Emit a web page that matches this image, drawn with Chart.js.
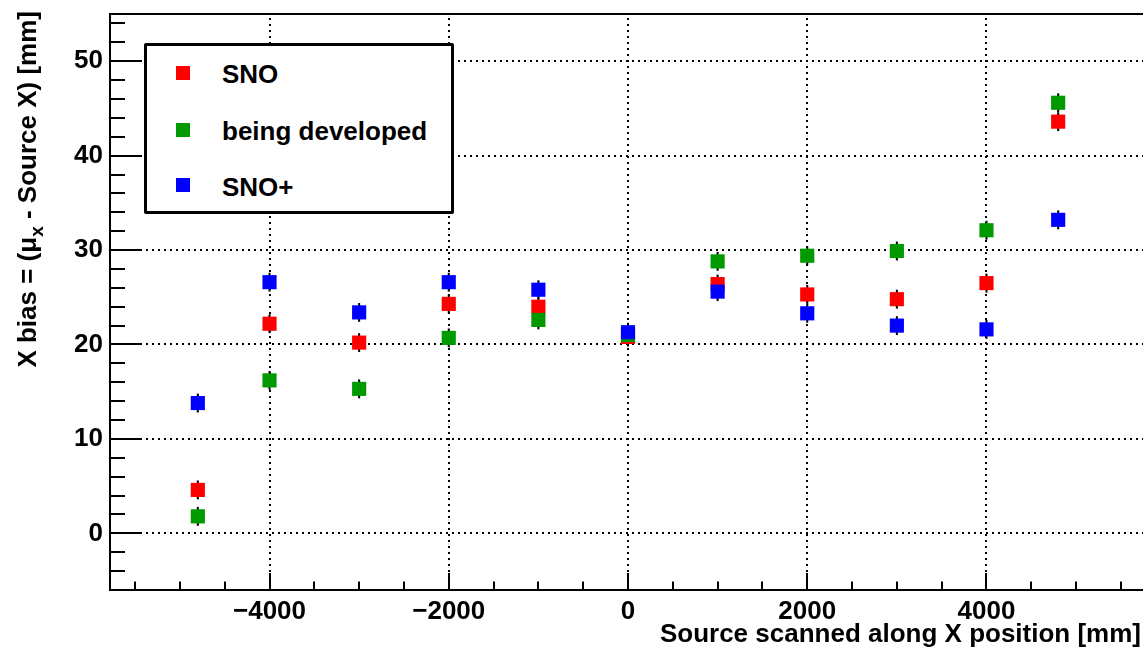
<!DOCTYPE html>
<html lang="en">
<head>
  <meta charset="UTF-8" />
  <title>X bias vs source position</title>
  <script src="https://cdn.jsdelivr.net/npm/chart.js"></script>
  <style>
    html, body {
      margin: 0;
      padding: 0;
      background: #fff;
      overflow: hidden;
    }
    .wrap {
      position: relative;
      width: 1200px;
      height: 650px;
    }
    canvas {
      display: block;
    }
    .legend {
      position: absolute;
      left: 144px;
      top: 43px;
      width: 310px;
      height: 171px;
      box-sizing: border-box;
      border: 3px solid #000;
      border-radius: 2px;
      background: #fff;
      font: bold 26px "Liberation Sans", Arial, sans-serif;
      color: #000;
    }
    .legend .mk {
      position: absolute;
      left: 29px;
      width: 14px;
      height: 14px;
    }
    .legend .lb {
      position: absolute;
      left: 75px;
      line-height: 26px;
      white-space: nowrap;
    }
  </style>
</head>
<body>
  <div class="wrap">
    <canvas id="biasChart" width="1148" height="650"></canvas>
    <div class="legend">
      <div class="mk" style="top:20px;background:#ff0000;"></div>
      <div class="lb" style="top:15px;">SNO</div>
      <div class="mk" style="top:77px;background:#009900;"></div>
      <div class="lb" style="top:72px;">being developed</div>
      <div class="mk" style="top:132px;background:#0000ff;"></div>
      <div class="lb" style="top:128px;">SNO+</div>
    </div>
  </div>

  <script>
    // source positions along X [mm]
    const xPositions = [-4800, -4000, -3000, -2000, -1000, 0, 1000, 2000, 3000, 4000, 4800];

    // X bias [mm] for each fitter
    const snoBias   = [4.6, 22.2, 20.2, 24.3, 24.0, 20.8, 26.4, 25.3, 24.8, 26.5, 43.6];
    const devBias   = [1.8, 16.2, 15.3, 20.7, 22.6, 21.0, 28.8, 29.4, 29.9, 32.1, 45.6];
    const snoPBias  = [13.8, 26.6, 23.4, 26.6, 25.8, 21.3, 25.6, 23.3, 22.0, 21.6, 33.2];

    // error bars
    const snoErr  = [1.0, 1.0, 1.0, 1.0, 1.0, 1.0, 1.0, 1.0, 1.0, 1.0, 1.0];
    const devErr  = [1.0, 1.0, 1.0, 1.0, 1.0, 1.0, 1.0, 1.0, 1.0, 1.0, 1.0];
    const snoPErr = [1.0, 1.0, 1.0, 1.0, 1.0, 1.0, 1.0, 1.0, 1.0, 1.0, 1.0];

    // axis ticks
    const xTickValues = [-4000, -2000, 0, 2000, 4000];
    const yTickValues = [0, 10, 20, 30, 40, 50];
    const xMinorStep = 500;
    const yMinorStep = 2;

    const FONT = '"Liberation Sans", Arial, sans-serif';
    const FRAME_RIGHT = 1146; // frame runs just past the picture edge

    function points(ys) {
      return xPositions.map((x, i) => ({ x: x, y: ys[i] }));
    }

    function noPadding(s) {
      s.paddingTop = 0;
      s.paddingBottom = 0;
      s.paddingLeft = 0;
      s.paddingRight = 0;
    }

    // ROOT-like frame: dotted grid, error bars, inner ticks, axis titles
    const rootFrame = {
      id: 'rootFrame',
      beforeDatasetsDraw(chart) {
        const ctx = chart.ctx;
        const a = chart.chartArea;
        const xs = chart.scales.x, ys = chart.scales.y;
        ctx.save();

        // grid
        ctx.strokeStyle = '#000';
        ctx.lineWidth = 2;
        ctx.setLineDash([2, 4]);
        xTickValues.forEach(v => {
          const px = Math.round(xs.getPixelForValue(v));
          ctx.beginPath();
          ctx.moveTo(px, a.bottom);
          ctx.lineTo(px, a.top);
          ctx.stroke();
        });
        yTickValues.forEach(v => {
          const py = Math.round(ys.getPixelForValue(v));
          ctx.beginPath();
          ctx.moveTo(a.left, py);
          ctx.lineTo(a.right, py);
          ctx.stroke();
        });
        ctx.setLineDash([]);

        // error bars
        ctx.lineWidth = 2;
        chart.data.datasets.forEach(ds => {
          ds.data.forEach((p, i) => {
            const px = xs.getPixelForValue(p.x);
            ctx.beginPath();
            ctx.moveTo(px, ys.getPixelForValue(p.y - ds.errors[i]));
            ctx.lineTo(px, ys.getPixelForValue(p.y + ds.errors[i]));
            ctx.stroke();
          });
        });
        ctx.restore();
      },
      afterDraw(chart) {
        const ctx = chart.ctx;
        const a = chart.chartArea;
        const xs = chart.scales.x, ys = chart.scales.y;
        ctx.save();
        ctx.strokeStyle = '#000';
        ctx.lineWidth = 2;

        // ticks inside the frame
        ctx.beginPath();
        for (let v = Math.ceil(xs.min / xMinorStep) * xMinorStep; v <= xs.max; v += xMinorStep) {
          const px = Math.round(xs.getPixelForValue(v));
          const len = (v % 2000 === 0) ? 17 : 8.5;
          ctx.moveTo(px, a.bottom);
          ctx.lineTo(px, a.bottom - len);
        }
        for (let v = Math.ceil(ys.min / yMinorStep) * yMinorStep; v <= ys.max; v += yMinorStep) {
          const py = Math.round(ys.getPixelForValue(v));
          const len = (v % 10 === 0) ? 30 : 15;
          ctx.moveTo(a.left, py);
          ctx.lineTo(a.left + len, py);
        }
        ctx.stroke();

        // frame
        ctx.strokeRect(a.left, a.top, a.right - a.left, a.bottom - a.top);

        // x title
        ctx.fillStyle = '#000';
        ctx.font = 'bold 26px ' + FONT;
        ctx.textAlign = 'right';
        ctx.textBaseline = 'alphabetic';
        ctx.fillText('Source scanned along X position [mm]', 1141, 642);

        // y title, rotated, with subscript
        const parts = [
          { t: 'X bias = (\u03bc', size: 26, dy: 0 },
          { t: 'x', size: 19, dy: 7 },
          { t: ' - Source X) [mm]', size: 26, dy: 0 }
        ];
        let total = 0;
        parts.forEach(p => {
          ctx.font = 'bold ' + p.size + 'px ' + FONT;
          p.w = ctx.measureText(p.t).width;
          total += p.w;
        });
        ctx.translate(36, 0);
        ctx.rotate(-Math.PI / 2);
        ctx.textAlign = 'left';
        let u = -11 - total;
        parts.forEach(p => {
          ctx.font = 'bold ' + p.size + 'px ' + FONT;
          ctx.fillText(p.t, u, p.dy);
          u += p.w;
        });
        ctx.restore();
      }
    };

    const chart = new Chart(document.getElementById('biasChart'), {
      type: 'scatter',
      data: {
        datasets: [
          {
            label: 'SNO+',
            data: points(snoPBias),
            errors: snoPErr,
            backgroundColor: '#0000ff',
            order: 0
          },
          {
            label: 'being developed',
            data: points(devBias),
            errors: devErr,
            backgroundColor: '#009900',
            order: 1
          },
          {
            label: 'SNO',
            data: points(snoBias),
            errors: snoErr,
            backgroundColor: '#ff0000',
            order: 2
          }
        ]
      },
      options: {
        responsive: false,
        maintainAspectRatio: false,
        animation: false,
        events: [],
        layout: { padding: { top: 14, right: 2, left: 0, bottom: 0 } },
        elements: {
          point: { pointStyle: 'rect', radius: 10, hoverRadius: 10, borderWidth: 0 }
        },
        plugins: {
          legend: { display: false },
          tooltip: { enabled: false }
        },
        scales: {
          x: {
            type: 'linear',
            min: -5780,
            max: 5780,
            grid: { display: false, drawTicks: false },
            border: { display: false },
            afterBuildTicks: s => { s.ticks = xTickValues.map(v => ({ value: v })); },
            afterFit: s => { s.height = 60; noPadding(s); },
            ticks: {
              padding: 6,
              color: '#000',
              font: { family: FONT, size: 26, weight: 'bold' },
              maxRotation: 0,
              autoSkip: false,
              callback: v => String(v).replace('-', '\u2212')
            }
          },
          y: {
            type: 'linear',
            min: -6,
            max: 55,
            grid: { display: false, drawTicks: false },
            border: { display: false },
            afterBuildTicks: s => { s.ticks = yTickValues.map(v => ({ value: v })); },
            afterFit: s => { s.width = 110; noPadding(s); },
            ticks: {
              padding: 7,
              color: '#000',
              font: { family: FONT, size: 26, weight: 'bold', lineHeight: 1 },
              autoSkip: false,
              callback: v => String(v)
            }
          }
        }
      },
      plugins: [rootFrame]
    });

    // widen the canvas until the plot frame ends where the reference's does
    for (let k = 0; k < 3; k++) {
      const dx = FRAME_RIGHT - chart.chartArea.right;
      if (Math.abs(dx) < 0.5) break;
      chart.resize(Math.round(chart.width + dx), 650);
    }
  </script>
</body>
</html>
